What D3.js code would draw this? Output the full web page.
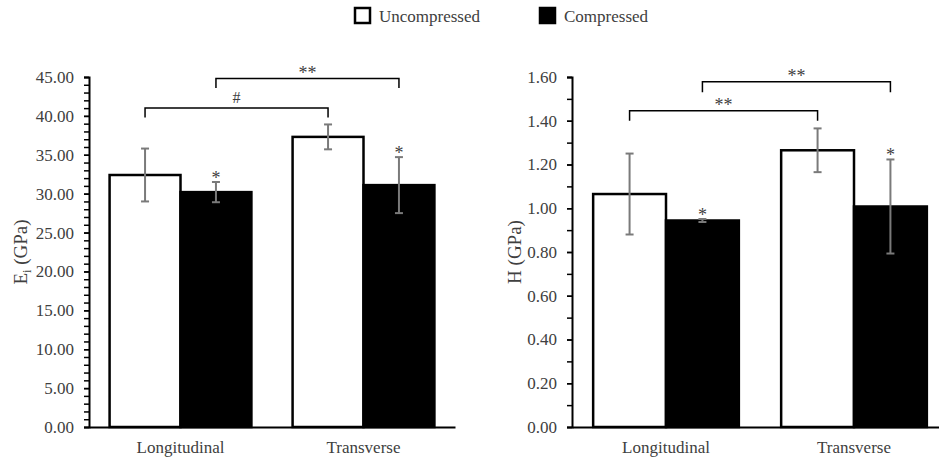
<!DOCTYPE html>
<html>
<head>
<meta charset="utf-8">
<script src="https://cdn.jsdelivr.net/npm/d3@7"></script>
<style>
  body { margin: 0; background: #fff; }
  svg text { fill: #404040; }
</style>
</head>
<body>
<div id="chart"></div>
<script>
const FONT = "'Liberation Serif', 'Times New Roman', Times, 'DejaVu Serif', serif";

const categories = ["Longitudinal", "Transverse"];
const seriesNames = ["Uncompressed", "Compressed"];

// E_i (GPa)
const eiUncompressed = [32.4, 37.3];
const eiUncompressedErr = [3.4, 1.6];
const eiCompressed = [30.2, 31.1];
const eiCompressedErr = [1.3, 3.6];

// H (GPa)
const hUncompressed = [1.065, 1.265];
const hUncompressedErr = [0.185, 0.10];
const hCompressed = [0.944, 1.008];
const hCompressedErr = [0.007, 0.215];

// significance marks above compressed bars
const starsCompressed = ["*", "*"];

// brackets: [category, series] -> [category, series], level (top, leg bottom), label
const eiBrackets = [
  { from: [0, 0], to: [1, 0], top: 41.0, leg: 39.8, label: "#" },
  { from: [0, 1], to: [1, 1], top: 44.8, leg: 43.6, label: "**" }
];
const hBrackets = [
  { from: [0, 0], to: [1, 0], top: 1.446, leg: 1.40, label: "**" },
  { from: [0, 1], to: [1, 1], top: 1.578, leg: 1.53, label: "**" }
];

const svg = d3.select("#chart").append("svg")
  .attr("width", 939)
  .attr("height", 462)
  .attr("font-family", FONT);

// ---------- legend ----------
const legendItems = [
  { name: seriesNames[0], x: 354, fill: "#fff" },
  { name: seriesNames[1], x: 539, fill: "#000" }
];
const legend = svg.selectAll(".legend")
  .data(legendItems)
  .enter().append("g")
  .attr("class", "legend")
  .attr("transform", d => `translate(${d.x},7)`);
legend.append("rect")
  .attr("x", 1).attr("y", 1)
  .attr("width", 15).attr("height", 15)
  .attr("fill", d => d.fill)
  .attr("stroke", "#000")
  .attr("stroke-width", 2.5);
legend.append("text")
  .attr("x", 25).attr("y", 14.5)
  .attr("font-family", FONT)
  .attr("font-size", 17)
  .text(d => d.name);

// ---------- one panel ----------
function drawPanel(opts) {
  const g = svg.append("g");

  const x = d3.scaleBand()
    .domain(categories)
    .range([opts.left, opts.right])
    .paddingInner(0.225)
    .paddingOuter(0.1125);

  const xs = d3.scaleBand()
    .domain(seriesNames)
    .range([0, x.bandwidth()]);

  const y = d3.scaleLinear()
    .domain([0, opts.max])
    .range([opts.bottom, opts.top]);

  const rows = [];
  categories.forEach((c, i) => {
    rows.push({ cat: c, ser: seriesNames[0], v: opts.unc[i], e: opts.uncErr[i], fill: "#fff" });
    rows.push({ cat: c, ser: seriesNames[1], v: opts.comp[i], e: opts.compErr[i], fill: "#000", star: starsCompressed[i] });
  });
  const cx = (c, s) => x(c) + xs(s) + xs.bandwidth() / 2;

  // y axis: minor ticks then major labelled ticks
  const minorAxis = d3.axisLeft(y)
    .tickValues(d3.range(0, opts.max + opts.minor / 2, opts.minor))
    .tickSize(5)
    .tickFormat("");
  g.append("g")
    .attr("transform", `translate(${opts.left},0)`)
    .call(minorAxis)
    .call(a => a.selectAll("line").attr("stroke", "#000").attr("stroke-width", 1.5))
    .call(a => a.select(".domain").remove());

  const majorAxis = d3.axisLeft(y)
    .tickValues(d3.range(0, opts.max + opts.step / 2, opts.step))
    .tickSize(5)
    .tickPadding(10)
    .tickFormat(d3.format(".2f"));
  g.append("g")
    .attr("transform", `translate(${opts.left},0)`)
    .call(majorAxis)
    .attr("font-family", FONT)
    .attr("font-size", 17)
    .call(a => a.selectAll("line").attr("stroke", "#000").attr("stroke-width", 1.5))
    .call(a => a.select(".domain").attr("stroke", "#000").attr("stroke-width", 2))
    .call(a => a.selectAll("text").attr("fill", "#404040"));

  // bars
  g.selectAll(".bar")
    .data(rows)
    .enter().append("rect")
    .attr("class", "bar")
    .attr("x", d => x(d.cat) + xs(d.ser))
    .attr("y", d => y(d.v))
    .attr("width", xs.bandwidth())
    .attr("height", d => y(0) - y(d.v))
    .attr("fill", d => d.fill)
    .attr("stroke", "#000")
    .attr("stroke-width", 2.5);

  // x axis
  const xAxis = d3.axisBottom(x).tickSize(0).tickPadding(14);
  g.append("g")
    .attr("transform", `translate(0,${opts.bottom})`)
    .call(xAxis)
    .attr("font-family", FONT)
    .attr("font-size", 17)
    .call(a => a.select(".domain").attr("stroke", "#000").attr("stroke-width", 2))
    .call(a => a.selectAll("text").attr("fill", "#404040"));

  // error bars
  const err = g.selectAll(".err")
    .data(rows)
    .enter().append("g")
    .attr("class", "err")
    .attr("stroke", "#7a7a7a")
    .attr("stroke-width", 2);
  err.append("line")
    .attr("x1", d => cx(d.cat, d.ser)).attr("x2", d => cx(d.cat, d.ser))
    .attr("y1", d => y(d.v - d.e)).attr("y2", d => y(d.v + d.e));
  err.append("line")
    .attr("x1", d => cx(d.cat, d.ser) - 4).attr("x2", d => cx(d.cat, d.ser) + 4)
    .attr("y1", d => y(d.v + d.e)).attr("y2", d => y(d.v + d.e));
  err.append("line")
    .attr("x1", d => cx(d.cat, d.ser) - 4).attr("x2", d => cx(d.cat, d.ser) + 4)
    .attr("y1", d => y(d.v - d.e)).attr("y2", d => y(d.v - d.e));

  // stars over compressed bars
  g.selectAll(".star")
    .data(rows.filter(d => d.star))
    .enter().append("text")
    .attr("class", "star")
    .attr("x", d => cx(d.cat, d.ser))
    .attr("y", d => y(d.v + d.e) + 2)
    .attr("text-anchor", "middle")
    .attr("font-size", 18)
    .text(d => d.star);

  // brackets
  const br = g.selectAll(".bracket")
    .data(opts.brackets)
    .enter().append("g")
    .attr("class", "bracket");
  br.append("path")
    .attr("d", d => {
      const x0 = cx(categories[d.from[0]], seriesNames[d.from[1]]);
      const x1 = cx(categories[d.to[0]], seriesNames[d.to[1]]);
      return `M${x0},${y(d.leg)}V${y(d.top)}H${x1}V${y(d.leg)}`;
    })
    .attr("fill", "none")
    .attr("stroke", "#000")
    .attr("stroke-width", 1.5);
  br.append("text")
    .attr("x", d => (cx(categories[d.from[0]], seriesNames[d.from[1]]) + cx(categories[d.to[0]], seriesNames[d.to[1]])) / 2)
    .attr("y", d => y(d.top) - (d.label === "#" ? 5 : 0))
    .attr("text-anchor", "middle")
    .attr("font-size", d => d.label === "#" ? 16 : 18)
    .text(d => d.label);

  // y label
  const yl = g.append("text")
    .attr("transform", `translate(${opts.labelX},${(opts.top + opts.bottom) / 2}) rotate(-90)`)
    .attr("text-anchor", "middle")
    .attr("font-size", 19);
  opts.yLabel(yl);
}

drawPanel({
  left: 89, right: 455, top: 77, bottom: 427,
  max: 45, step: 5, minor: 1,
  unc: eiUncompressed, uncErr: eiUncompressedErr,
  comp: eiCompressed, compErr: eiCompressedErr,
  brackets: eiBrackets,
  labelX: 27,
  yLabel: t => {
    t.append("tspan").text("E");
    t.append("tspan").attr("dy", 4).attr("font-size", 12).text("i");
    t.append("tspan").attr("dy", -4).text(" (GPa)");
  }
});

drawPanel({
  left: 572, right: 948, top: 77, bottom: 427,
  max: 1.6, step: 0.2, minor: 0.1,
  unc: hUncompressed, uncErr: hUncompressedErr,
  comp: hCompressed, compErr: hCompressedErr,
  brackets: hBrackets,
  labelX: 521,
  yLabel: t => t.text("H (GPa)")
});
</script>
</body>
</html>
